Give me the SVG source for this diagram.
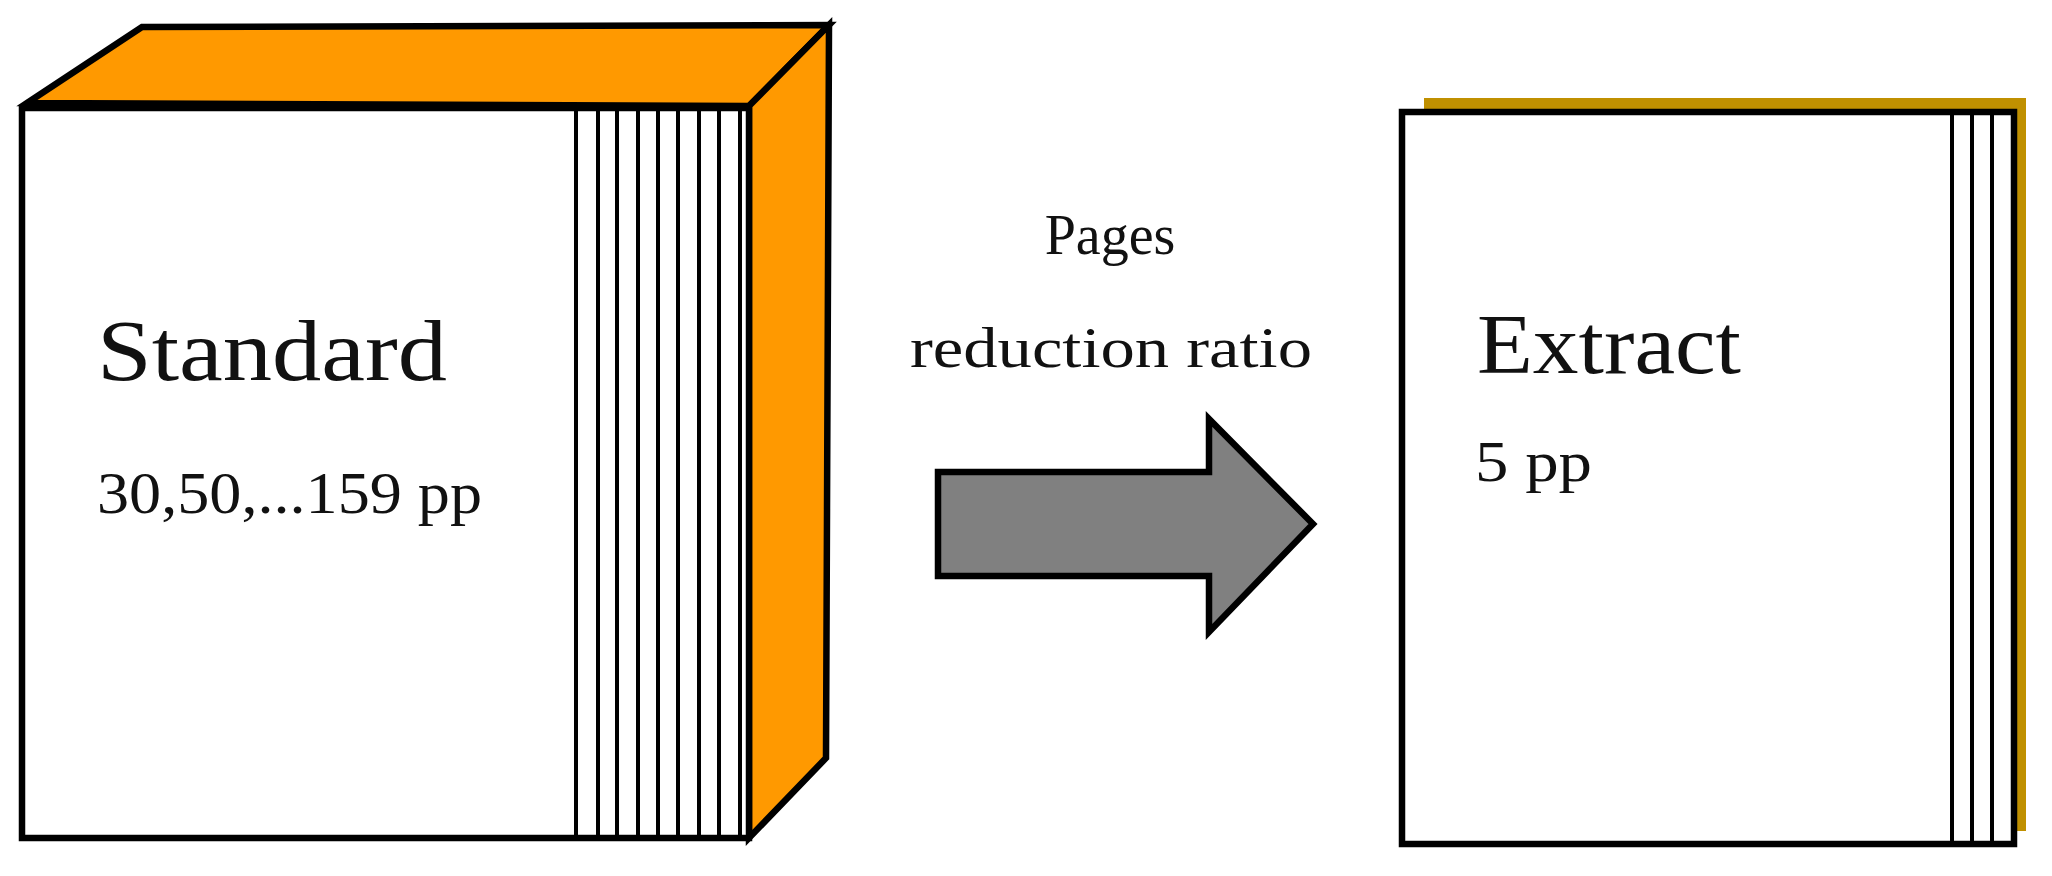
<svg xmlns="http://www.w3.org/2000/svg" width="2052" height="876" viewBox="0 0 2052 876">
<style>
.t{font-family:"Liberation Serif","DejaVu Serif",serif;fill:#111}
.k{stroke:#000;stroke-width:6.5;stroke-linejoin:miter}
.s{stroke:#000;stroke-width:4}
</style>
<rect width="2052" height="876" fill="#fff"/>
<g id="standard">
<polygon class="k" points="27,103 142,27 829,25 749,106" fill="#FF9900"/>
<polygon class="k" points="749,106 829,25 826,758 749,838" fill="#FF9900"/>
<rect class="k" x="22" y="108" width="727" height="730" fill="#fff"/>
<g class="s">
<line x1="576" y1="111" x2="576" y2="835"/><line x1="598" y1="111" x2="598" y2="835"/>
<line x1="617" y1="111" x2="617" y2="835"/><line x1="638" y1="111" x2="638" y2="835"/>
<line x1="658" y1="111" x2="658" y2="835"/><line x1="678" y1="111" x2="678" y2="835"/>
<line x1="699" y1="111" x2="699" y2="835"/><line x1="719" y1="111" x2="719" y2="835"/>
<line x1="740" y1="111" x2="740" y2="835"/>
</g>
<text class="t" x="97" y="380" font-size="86" textLength="350" lengthAdjust="spacingAndGlyphs">Standard</text>
<text class="t" x="97" y="513" font-size="60" textLength="385" lengthAdjust="spacingAndGlyphs">30,50,...159 pp</text>
</g>
<g id="arrow">
<polygon class="k" points="938,472 1209,472 1209,419 1313,524 1209,632 1209,576 938,576" fill="#808080"/>
<text class="t" x="1110" y="254" font-size="56" text-anchor="middle">Pages</text>
<text class="t" x="910" y="367" font-size="56" textLength="402" lengthAdjust="spacingAndGlyphs">reduction ratio</text>
</g>
<g id="extract">
<rect x="1424" y="98" width="602" height="733" fill="#C09000"/>
<rect class="k" x="1402" y="112" width="612" height="732" fill="#fff"/>
<g class="s">
<line x1="1952" y1="114" x2="1952" y2="841"/><line x1="1972" y1="114" x2="1972" y2="841"/>
<line x1="1992" y1="114" x2="1992" y2="841"/>
</g>
<text class="t" x="1477" y="373" font-size="84" textLength="264" lengthAdjust="spacingAndGlyphs">Extract</text>
<text class="t" x="1475" y="481" font-size="58" textLength="117" lengthAdjust="spacingAndGlyphs">5 pp</text>
</g>
</svg>
